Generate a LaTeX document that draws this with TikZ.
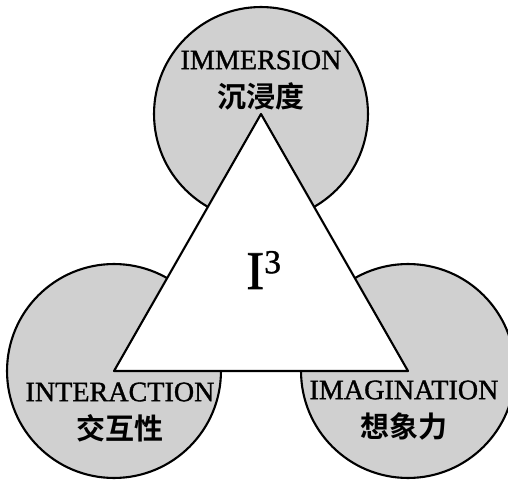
\documentclass[tikz,border=0pt]{standalone}
\usepackage{fontspec}
\setmainfont{Liberation Serif}
\newfontfamily\heavyrm{Liberation Serif}[FakeBold=1.2]
\newfontfamily\cjk{Noto Sans CJK SC}[BoldFont={Noto Sans CJK SC Bold}]
\usepackage{tikz}
\usetikzlibrary{positioning}
\definecolor{dotgray}{RGB}{208,208,208}

\tikzset{
  ring/.style={circle,draw=black,line width=1.2pt,fill=dotgray,minimum size=4.28cm,inner sep=0pt},
  en/.style={font=\heavyrm\fontsize{16}{18}\selectfont,inner sep=0pt},
  zh/.style={font=\cjk\bfseries\fontsize{16.5}{18}\selectfont,inner sep=0pt}
}

\begin{document}
\begin{tikzpicture}[x=0.02cm,y=-0.02cm]
  \useasboundingbox (0,0) rectangle (508,483);
  % corners of the triangle, each one carries a circle
  \coordinate (top) at (261,114);
  \coordinate (bl) at (114,371);
  \coordinate (br) at (408,371);
  \foreach \v/\n in {top/cimm,bl/cint,br/cimg} {\node[ring] (\n) at (\v) {};}
  \filldraw[fill=white,draw=black,line width=1.2pt,line join=round] (top) -- (bl) -- (br) -- cycle;
  \node[font=\heavyrm\fontsize{31}{32}\selectfont,inner sep=0pt] (pcube) at (264,270) {I\textsuperscript{\fontsize{19}{20}\selectfont 3}};
  % labels
  \node[en] (immersion) at (261,60) {IMMERSION};
  \node[zh,below=7pt of immersion] (chenjin) {沉浸度};
  \node[en] (interaction) at (120,392) {INTERACTION};
  \node[zh,below=7pt of interaction] (jiaohu) {交互性};
  \node[en] (imagination) at (404,390) {IMAGINATION};
  \node[zh,below=7pt of imagination] (xiangxiang) {想象力};
\end{tikzpicture}
\end{document}
